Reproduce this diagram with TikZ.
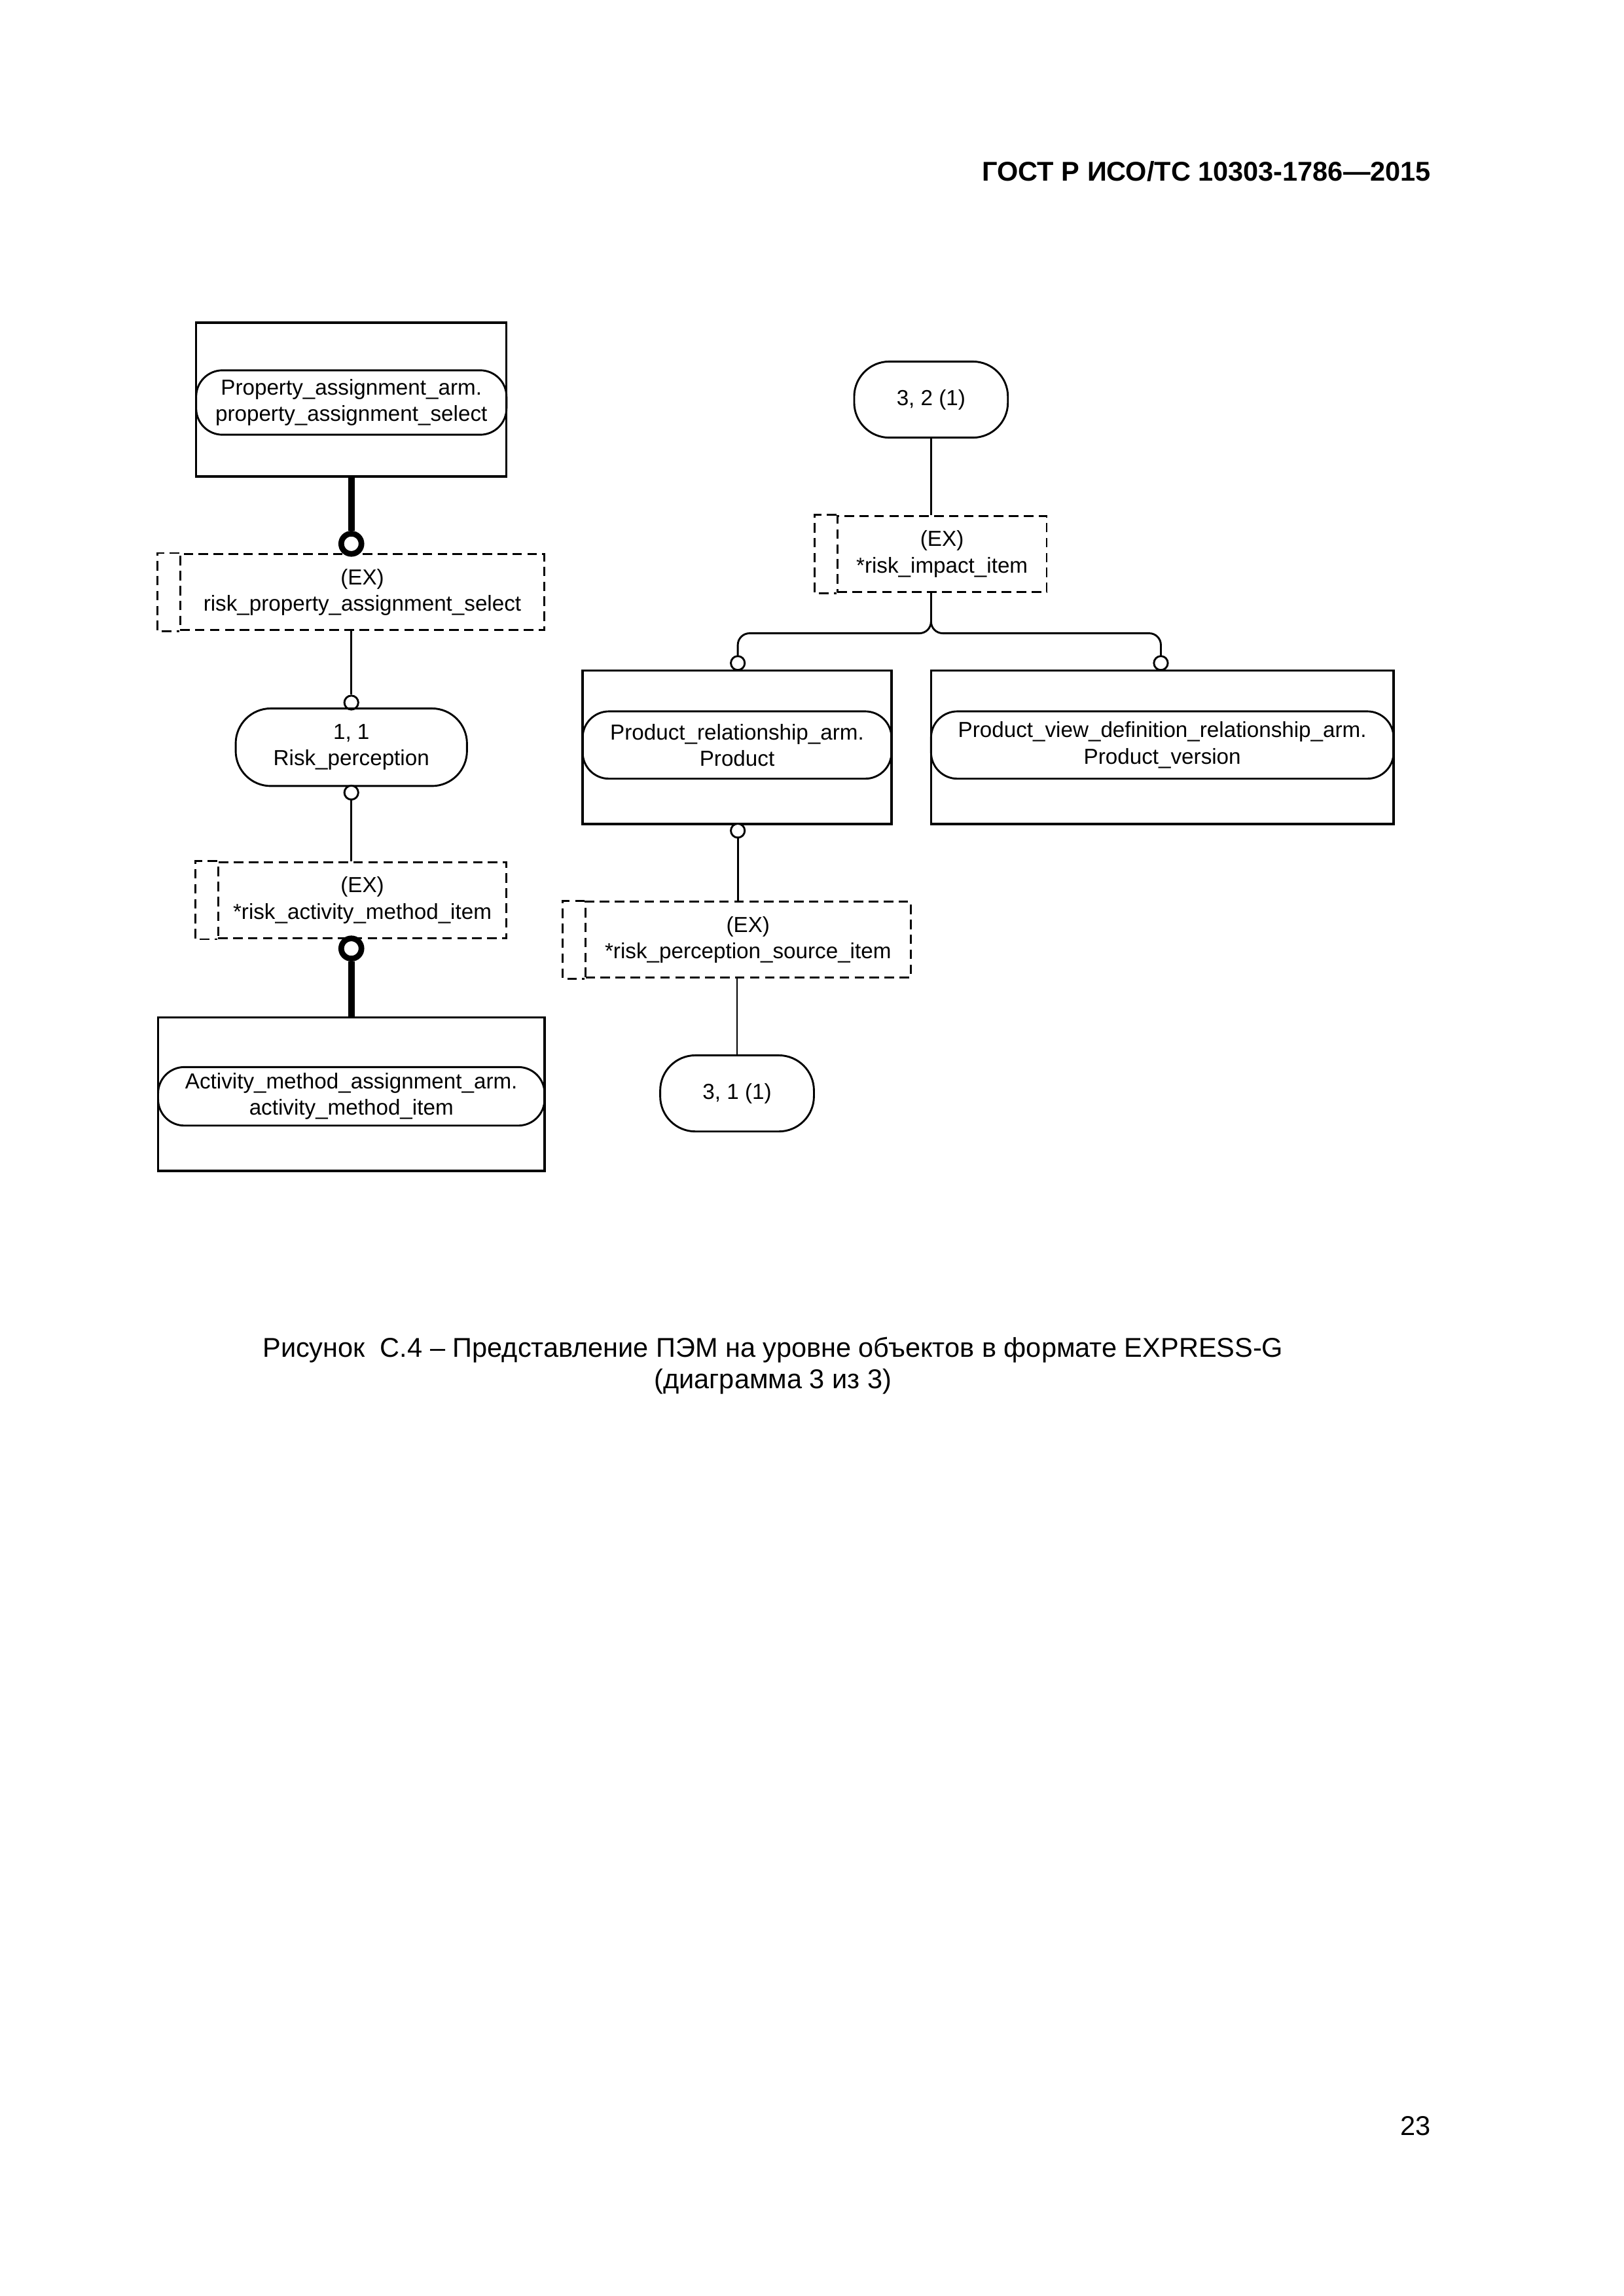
\documentclass[tikz,border=0pt]{standalone}
\usepackage{fontspec}
\setmainfont{Liberation Sans}
\newcommand{\pu}{0.18935mm}
\newcommand{\diagfont}{\fontsize{8}{9.7}\selectfont}
\tikzset{
  frame/.style={draw,line width=.8pt,inner sep=0pt,minimum height=105*\pu},
  attr/.style={draw,line width=.7pt,rounded corners=18*\pu,inner sep=0pt,align=center,font=\diagfont},
  pageref/.style={draw,line width=.7pt,rounded corners=24*\pu,inner sep=0pt,minimum width=105*\pu,minimum height=52*\pu,font=\diagfont},
  selectline/.style={line width=.7pt,dash pattern=on 3.5pt off 2pt},
  selectbox/.style={draw,selectline,inner sep=0pt,align=center,minimum height=52*\pu,font=\diagfont},
  ring/.style={circle,draw,line width=.7pt,fill=white,inner sep=0pt,minimum size=9.5*\pu},
  thickring/.style={circle,draw,line width=2.1pt,fill=white,inner sep=0pt,minimum size=13.8*\pu},
  rel/.style={line width=.7pt},
  thickrel/.style={line width=2.4pt}
}
\begin{document}
\begin{tikzpicture}[x=\pu,y=\pu]

      \fill[white] (0,0) rectangle (1109.1,-1568.6);
      \useasboundingbox (0,0) rectangle (1109.1,-1568.6);

      % left column
      \node[frame,minimum width=212*\pu] (1) at (240,-273) {};
      \node[attr,minimum width=212*\pu,minimum height=44*\pu] (2) at (240,-275)
        {Property\_assignment\_arm.\\property\_assignment\_select};
      \node[thickring] (3) at (240,-371.5) {};
      \node[selectbox,minimum width=249*\pu] (4) at (247.5,-404.5)
        {(EX)\\risk\_property\_assignment\_select};
      \node[ring] (5) at (240,-480) {};
      \node[attr,rounded corners=24*\pu,minimum width=158*\pu,minimum height=53*\pu] (6) at (240,-510.5)
        {1, 1\\Risk\_perception};
      \node[ring] (7) at (240,-541.5) {};
      \node[selectbox,minimum width=197*\pu] (8) at (247.5,-615)
        {(EX)\\*risk\_activity\_method\_item};
      \node[thickring] (9) at (240,-648) {};
      \node[frame,minimum width=264*\pu] (10) at (240,-747.5) {};
      \node[attr,minimum width=264*\pu,minimum height=40*\pu] (11) at (240,-749)
        {Activity\_method\_assignment\_arm.\\activity\_method\_item};

      % right column
      \node[pageref] (12) at (636,-273) {3, 2 (1)};
      \node[selectbox,minimum width=143*\pu] (13) at (643.5,-378.5)
        {(EX)\\*risk\_impact\_item};
      \node[ring] (14) at (504,-453) {};
      \node[ring] (15) at (793,-453) {};
      \node[frame,minimum width=211*\pu] (16) at (503.5,-510.5) {};
      \node[attr,minimum width=211*\pu,minimum height=46*\pu] (17) at (503.5,-509)
        {Product\_relationship\_arm.\\Product};
      \node[frame,minimum width=316*\pu] (18) at (794,-510.5) {};
      \node[attr,minimum width=316*\pu,minimum height=46*\pu] (19) at (794,-509)
        {Product\_view\_definition\_relationship\_arm.\\Product\_version};
      \node[ring] (20) at (504,-567.5) {};
      \node[selectbox,minimum width=222*\pu] (21) at (511,-642)
        {(EX)\\*risk\_perception\_source\_item};
      \node[pageref] (22) at (503.5,-747) {3, 1 (1)};

      % left strips of the select boxes
      \foreach \s in {4,8,13,21}
        \draw[selectline] (\s.north west) -- ++(-15,0) |- (\s.south west);

      \begin{scope}[every edge/.style={draw,rel}]
        \path (4.south -| 5.north) edge (5.north);
        \path (7.south) edge (7.south |- 8.north);
        \path (12.south) edge (12.south |- 13.north);
        \path (20.south) edge (20.south |- 21.north);
        \path (21.south -| 22.north) edge (22.north);
      \end{scope}

      \begin{scope}[every edge/.style={draw,thickrel}]
        \path (1.south) edge (3.north);
        \path (9.south) edge (10.north);
      \end{scope}

      % fork below *risk_impact_item
      \draw[rel] (13.south -| 12.south) -- ++(0,-19.5) coordinate (fork);
      \draw[rel] (fork) to[out=-90,in=0] ++(-8,-8) [rounded corners=8*\pu] -| (14.north);
      \draw[rel] (fork) to[out=-90,in=180] ++(8,-8) [rounded corners=8*\pu] -| (15.north);

      % page texts
      \node[anchor=base east,font=\bfseries\fontsize{10}{12}\selectfont] (hdr) at (984,-123.5)
        {ГОСТ Р ИСО/ТС 10303-1786—2015};
      \node[align=center,font=\fontsize{10}{11.4}\selectfont] (cap) at (528,-933)
        {Рисунок\ \ С.4 – Представление ПЭМ на уровне объектов в формате EXPRESS-G\\(диаграмма 3 из 3)};
      \node[anchor=base east,font=\fontsize{10}{12}\selectfont] (pg) at (984,-1459) {23};

    \end{tikzpicture}
\end{document}
